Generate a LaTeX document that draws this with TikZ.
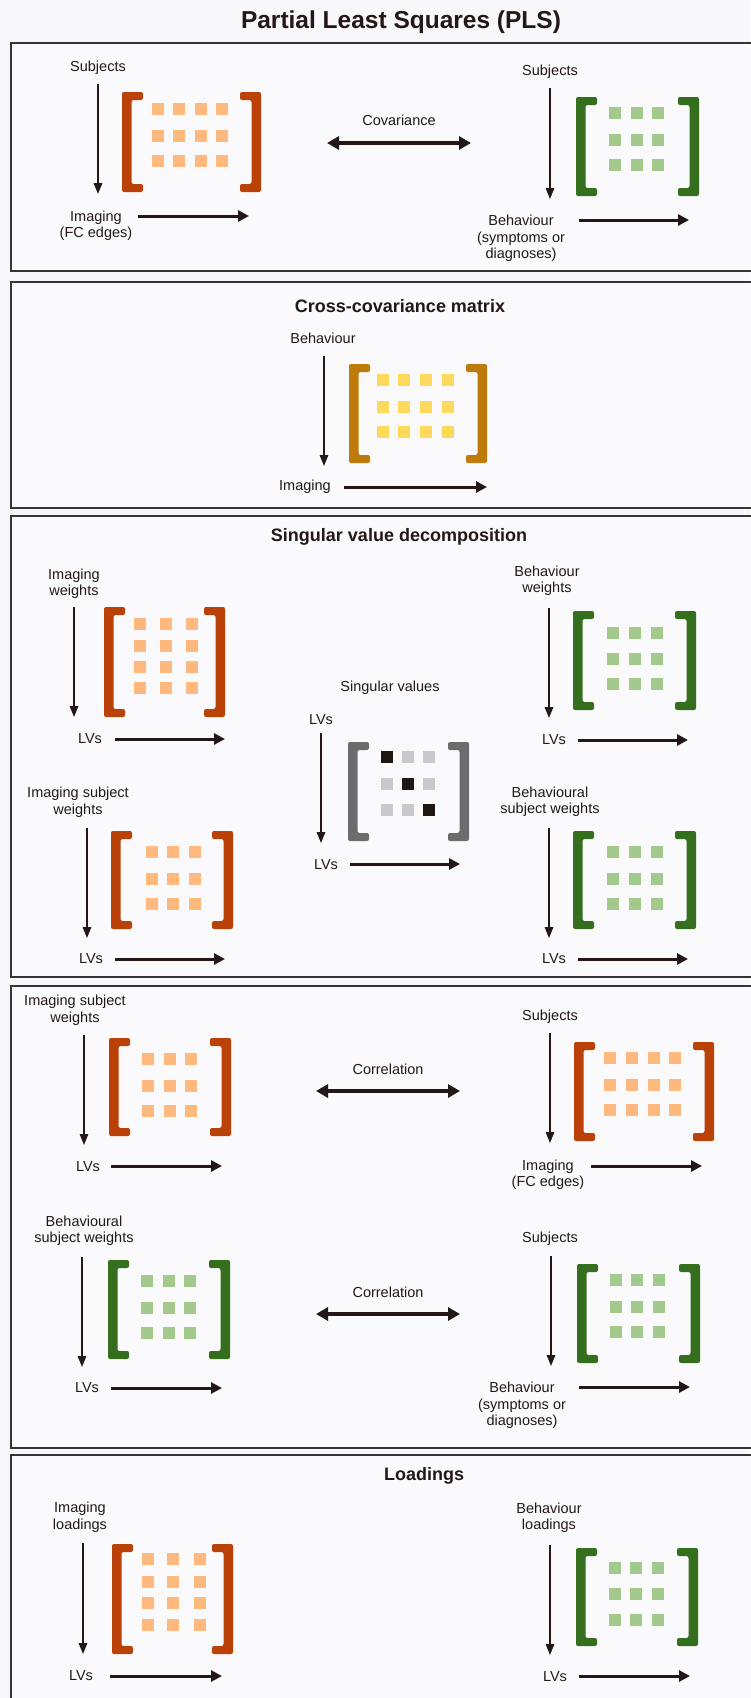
\documentclass[tikz,border=0pt]{standalone}
\usepackage{fontspec}
\setmainfont{Liberation Sans}
\usetikzlibrary{arrows.meta}
\definecolor{ink}{HTML}{231815}
\definecolor{frame}{HTML}{353535}
\definecolor{pagebg}{HTML}{F8F8FA}
\definecolor{boxbg}{HTML}{FAFAFC}
\definecolor{obrk}{HTML}{BA4208}
\definecolor{osq}{HTML}{FFB97F}
\definecolor{gbrk}{HTML}{356F1D}
\definecolor{gsq}{HTML}{A3C98C}
\definecolor{ybrk}{HTML}{BF7A0C}
\definecolor{ysq}{HTML}{FFD95C}
\definecolor{kbrk}{HTML}{6D6B6C}
\definecolor{ksq}{HTML}{CBC9CB}
\definecolor{kdark}{HTML}{1F1612}
\tikzset{
  panel/.style={draw=frame, line width=2pt, fill=boxbg},
  lbl/.style={text=ink, font=\fontsize{14.5}{16.5}\selectfont, align=center, inner sep=0pt},
  head/.style={text=ink, font=\fontsize{18}{20}\selectfont\bfseries, inner sep=0pt},
  downarr/.style={draw=ink, line width=1.6pt, -{Triangle[length=11pt,width=8.5pt]}},
  rightarr/.style={draw=ink, line width=3pt, -{Triangle[length=11pt,width=11pt]}},
  duoarr/.style={draw=ink, line width=4.5pt, {Triangle[length=12pt,width=13pt]}-{Triangle[length=12pt,width=13pt]}},
  brk/.style={rounded corners=2pt},
}
% #1 left x, #2 right x, #3 top y, #4 bottom y, #5 bracket colour, #6 square colour, #7 columns, #8 rows
\newcommand\mymat[8]{%
  \fill[brk,#5] (#1,#3) -- (#1+21,#3) -- (#1+21,#3+8) -- (#1+9.5,#3+8) -- (#1+9.5,#4-8) -- (#1+21,#4-8) -- (#1+21,#4) -- (#1,#4) -- cycle;
  \fill[brk,#5] (#2,#3) -- (#2-21,#3) -- (#2-21,#3+8) -- (#2-9.5,#3+8) -- (#2-9.5,#4-8) -- (#2-21,#4-8) -- (#2-21,#4) -- (#2,#4) -- cycle;
  \foreach \cx in {#7} {\foreach \cy in {#8} {\fill[#6] (\cx-5.75,\cy-5.75) rectangle ++(11.5,11.5);}}%
}
\begin{document}
\begin{tikzpicture}[x=1pt,y=-1pt]
\useasboundingbox[fill=pagebg] (0,0) rectangle (750,1698);

\node[text=ink, font=\fontsize{24.5}{26}\selectfont\bfseries, inner sep=0pt] (title) at (401,22) {Partial Least Squares (PLS)};

% ---------------- Panel 1
\draw[panel] (11,43) rectangle (753,271);
\node[lbl] (p1subjA) at (98,68) {Subjects};
\coordinate (p1dA1) at (98,84); \coordinate (p1dA2) at (98,194);
\draw[downarr] (p1dA1) -- (p1dA2);
\mymat{122}{261}{92}{192}{obrk}{osq}{158,179,201,222}{109,136,161}
\node[lbl] (p1imgA) at (96,225.5) {Imaging\\(FC edges)};
\coordinate (p1rA1) at (138,216); \coordinate (p1rA2) at (249,216);
\draw[rightarr] (p1rA1) -- (p1rA2);
\node[lbl] (p1cov) at (399,120) {Covariance};
\coordinate (p1c1) at (327,143); \coordinate (p1c2) at (471,143);
\draw[duoarr] (p1c1) -- (p1c2);
\node[lbl] (p1subjB) at (550,72) {Subjects};
\coordinate (p1dB1) at (550,88); \coordinate (p1dB2) at (550,199);
\draw[downarr] (p1dB1) -- (p1dB2);
\mymat{576}{699}{97}{196}{gbrk}{gsq}{615,637,658}{113,140,165}
\node[lbl] (p1behB) at (521,238.5) {Behaviour\\(symptoms or\\diagnoses)};
\coordinate (p1rB1) at (579,220); \coordinate (p1rB2) at (689,220);
\draw[rightarr] (p1rB1) -- (p1rB2);

% ---------------- Panel 2
\draw[panel] (11,282) rectangle (753,508);
\node[head] (p2head) at (400,306) {Cross-covariance matrix};
\node[lbl] (p2beh) at (323,338) {Behaviour};
\coordinate (p2d1) at (324,356); \coordinate (p2d2) at (324,466);
\draw[downarr] (p2d1) -- (p2d2);
\mymat{349}{487}{364}{463}{ybrk}{ysq}{383,404,426,448}{380,407,432}
\node[lbl] (p2img) at (305,487) {Imaging};
\coordinate (p2r1) at (344,487); \coordinate (p2r2) at (487,487);
\draw[rightarr] (p2r1) -- (p2r2);

% ---------------- Panel 3
\draw[panel] (11,516) rectangle (753,977);
\node[head] (p3head) at (399,537) {Singular value decomposition};
% imaging weights
\node[lbl] (p3iw) at (74,583.5) {Imaging\\weights};
\coordinate (p3d1a) at (74,607); \coordinate (p3d1b) at (74,717);
\draw[downarr] (p3d1a) -- (p3d1b);
\mymat{104}{225}{607}{717}{obrk}{osq}{140,166,192}{624,646,667,688}
\node[lbl] (p3lv1) at (90,739) {LVs};
\coordinate (p3r1a) at (115,739); \coordinate (p3r1b) at (225,739);
\draw[rightarr] (p3r1a) -- (p3r1b);
% behaviour weights
\node[lbl] (p3bw) at (547,580.5) {Behaviour\\weights};
\coordinate (p3d2a) at (549,608); \coordinate (p3d2b) at (549,718);
\draw[downarr] (p3d2a) -- (p3d2b);
\mymat{573}{696}{611}{710}{gbrk}{gsq}{613,635,657}{633,659,684}
\node[lbl] (p3lv2) at (554,740) {LVs};
\coordinate (p3r2a) at (578,740); \coordinate (p3r2b) at (688,740);
\draw[rightarr] (p3r2a) -- (p3r2b);
% singular values
\node[lbl] (p3sv) at (390,688) {Singular values};
\node[lbl] (p3lv3) at (321,720) {LVs};
\coordinate (p3d3a) at (321,733); \coordinate (p3d3b) at (321,843);
\draw[downarr] (p3d3a) -- (p3d3b);
\mymat{348}{469}{742}{841}{kbrk}{ksq}{387,408,429}{757,784,810}
\fill[kdark] (387-5.75,757-5.75) rectangle ++(11.5,11.5);
\fill[kdark] (408-5.75,784-5.75) rectangle ++(11.5,11.5);
\fill[kdark] (429-5.75,810-5.75) rectangle ++(11.5,11.5);
\node[lbl] (p3lv4) at (326,865) {LVs};
\coordinate (p3r3a) at (350,864); \coordinate (p3r3b) at (460,864);
\draw[rightarr] (p3r3a) -- (p3r3b);
% imaging subject weights
\node[lbl] (p3isw) at (78,802) {Imaging subject\\weights};
\coordinate (p3d4a) at (87,828); \coordinate (p3d4b) at (87,938);
\draw[downarr] (p3d4a) -- (p3d4b);
\mymat{111}{233}{831}{929}{obrk}{osq}{152,173,195}{852,879,904}
\node[lbl] (p3lv5) at (91,959) {LVs};
\coordinate (p3r4a) at (115,959); \coordinate (p3r4b) at (225,959);
\draw[rightarr] (p3r4a) -- (p3r4b);
% behavioural subject weights
\node[lbl] (p3bsw) at (550,801.5) {Behavioural\\subject weights};
\coordinate (p3d5a) at (549,828); \coordinate (p3d5b) at (549,938);
\draw[downarr] (p3d5a) -- (p3d5b);
\mymat{573}{696}{831}{929}{gbrk}{gsq}{613,635,657}{852,879,904}
\node[lbl] (p3lv6) at (554,959) {LVs};
\coordinate (p3r5a) at (578,959); \coordinate (p3r5b) at (688,959);
\draw[rightarr] (p3r5a) -- (p3r5b);

% ---------------- Panel 4
\draw[panel] (11,986) rectangle (753,1448);
\node[lbl] (p4isw) at (75,1010) {Imaging subject\\weights};
\coordinate (p4d1a) at (84,1035); \coordinate (p4d1b) at (84,1145);
\draw[downarr] (p4d1a) -- (p4d1b);
\mymat{109}{231}{1038}{1136}{obrk}{osq}{148,170,191}{1059,1086,1111}
\node[lbl] (p4lv1) at (88,1167) {LVs};
\coordinate (p4r1a) at (111,1166); \coordinate (p4r1b) at (222,1166);
\draw[rightarr] (p4r1a) -- (p4r1b);
\node[lbl] (p4cor1) at (388,1069) {Correlation};
\coordinate (p4c1a) at (316,1091); \coordinate (p4c1b) at (460,1091);
\draw[duoarr] (p4c1a) -- (p4c1b);
\node[lbl] (p4subj1) at (550,1017) {Subjects};
\coordinate (p4d2a) at (550,1033); \coordinate (p4d2b) at (550,1143);
\draw[downarr] (p4d2a) -- (p4d2b);
\mymat{574}{714}{1042}{1141}{obrk}{osq}{610,632,654,675}{1058,1085,1110}
\node[lbl] (p4img) at (548,1174.5) {Imaging\\(FC edges)};
\coordinate (p4r2a) at (591,1166); \coordinate (p4r2b) at (702,1166);
\draw[rightarr] (p4r2a) -- (p4r2b);
\node[lbl] (p4bsw) at (84,1230.5) {Behavioural\\subject weights};
\coordinate (p4d3a) at (82,1257); \coordinate (p4d3b) at (82,1367);
\draw[downarr] (p4d3a) -- (p4d3b);
\mymat{108}{230}{1260}{1359}{gbrk}{gsq}{147,169,190}{1281,1308,1333}
\node[lbl] (p4lv2) at (87,1388) {LVs};
\coordinate (p4r3a) at (111,1388); \coordinate (p4r3b) at (222,1388);
\draw[rightarr] (p4r3a) -- (p4r3b);
\node[lbl] (p4cor2) at (388,1292) {Correlation};
\coordinate (p4c2a) at (316,1314); \coordinate (p4c2b) at (460,1314);
\draw[duoarr] (p4c2a) -- (p4c2b);
\node[lbl] (p4subj2) at (550,1239) {Subjects};
\coordinate (p4d4a) at (551,1256); \coordinate (p4d4b) at (551,1366);
\draw[downarr] (p4d4a) -- (p4d4b);
\mymat{577}{700}{1264}{1363}{gbrk}{gsq}{616,637,659}{1280,1307,1332}
\node[lbl] (p4beh) at (522,1405.5) {Behaviour\\(symptoms or\\diagnoses)};
\coordinate (p4r4a) at (579,1387); \coordinate (p4r4b) at (690,1387);
\draw[rightarr] (p4r4a) -- (p4r4b);

% ---------------- Panel 5
\draw[panel] (11,1455) rectangle (753,1703);
\node[head] (p5head) at (424,1476) {Loadings};
\node[lbl] (p5il) at (80,1517) {Imaging\\loadings};
\coordinate (p5d1a) at (83,1543); \coordinate (p5d1b) at (83,1654);
\draw[downarr] (p5d1a) -- (p5d1b);
\mymat{112}{233}{1544}{1654}{obrk}{osq}{148,173,200}{1559,1582,1603,1625}
\node[lbl] (p5lv1) at (81,1676) {LVs};
\coordinate (p5r1a) at (110,1676); \coordinate (p5r1b) at (222,1676);
\draw[rightarr] (p5r1a) -- (p5r1b);
\node[lbl] (p5bl) at (549,1517.5) {Behaviour\\loadings};
\coordinate (p5d2a) at (550,1545); \coordinate (p5d2b) at (550,1655);
\draw[downarr] (p5d2a) -- (p5d2b);
\mymat{576}{698}{1548}{1646}{gbrk}{gsq}{615,636,658}{1568,1594,1620}
\node[lbl] (p5lv2) at (555,1677) {LVs};
\coordinate (p5r2a) at (579,1676); \coordinate (p5r2b) at (690,1676);
\draw[rightarr] (p5r2a) -- (p5r2b);
\end{tikzpicture}
\end{document}
